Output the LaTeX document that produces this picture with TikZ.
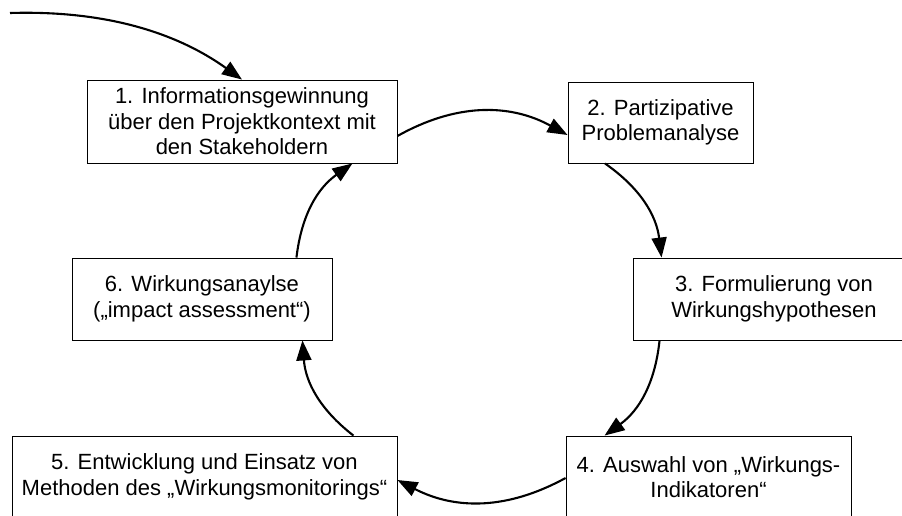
\documentclass[tikz,border=0pt]{standalone}
\usepackage{fontspec}
\setmainfont{Liberation Sans}
\usetikzlibrary{arrows.meta}
\tikzset{
  stepbox/.style={draw=black, line width=0.9pt, fill=white, align=center, inner sep=0pt,
    font=\fontsize{22pt}{25.5pt}\selectfont},
  flow/.style={line width=2.1pt, -{Triangle[length=20pt,width=15pt]}}
}
\begin{document}
\begin{tikzpicture}[x=1pt,y=-1pt]
\clip (0,0) rectangle (902,515);
\fill[white] (0,0) rectangle (902,515);
\node[stepbox, minimum width=310pt, minimum height=83pt] (b1) at (242,121.5)
  {1. Informationsgewinnung\\über den Projektkontext mit\\den Stakeholdern};
\node[stepbox, minimum width=185pt, minimum height=81pt] (b2) at (660.5,122.5)
  {2. Partizipative\\Problemanalyse};
\node[stepbox, minimum width=282pt, minimum height=82pt] (b3) at (774,299)
  {3. Formulierung von\\Wirkungshypothesen};
\node[stepbox, minimum width=285pt, minimum height=82pt] (b4) at (708.5,477)
  {4. Auswahl von „Wirkungs-\\Indikatoren“};
\node[stepbox, minimum width=385pt, minimum height=82pt] (b5) at (204.5,477)
  {5. Entwicklung und Einsatz von\\Methoden des „Wirkungsmonitorings“};
\node[stepbox, minimum width=260pt, minimum height=82pt] (b6) at (202,299)
  {6. Wirkungsanaylse\\(„impact assessment“)};
\coordinate (start) at (10,13);
\draw[flow] (start) .. controls (110,10) and (180,35) .. (b1.north);
\draw[flow] ([yshift=-14.5pt]b1.east) to[bend left=29] ([yshift=-12.5pt]b2.west);
\draw[flow] ([xshift=-55.5pt]b2.south) to[bend left=24] ([xshift=29pt]b3.north west);
\draw[flow] ([xshift=27pt]b3.south west) to[bend left=24] ([xshift=39pt]b4.north west);
\draw[flow] ([yshift=-1pt]b4.west) to[bend left=28] ([yshift=-3pt]b5.east);
\draw[flow] ([xshift=-44pt]b5.north east) to[bend left=24] ([xshift=-30pt]b6.south east);
\draw[flow] ([xshift=-36pt]b6.north east) to[bend left=24] ([xshift=-45pt]b1.south east);
\end{tikzpicture}
\end{document}
